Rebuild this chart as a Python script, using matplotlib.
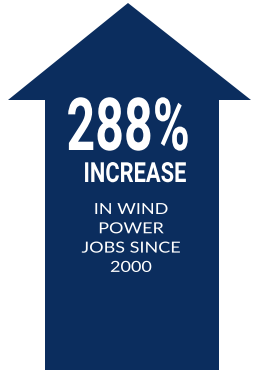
import matplotlib.pyplot as plt
from matplotlib.patches import Polygon
from matplotlib.patheffects import AbstractPathEffect
from matplotlib.transforms import Affine2D

# content
percent = 288
headline = "INCREASE"
sub_lines = ["IN WIND", "POWER", "JOBS SINCE", "2000"]

navy = "#0b2d5e"


class Stretch(AbstractPathEffect):
    """Scale glyphs about the baseline / horizontal centre of the text."""

    def __init__(self, sx, sy=1.0):
        super().__init__()
        self.sx = sx
        self.sy = sy

    def draw_path(self, renderer, gc, tpath, affine, rgbFace=None):
        ext = tpath.get_extents()
        cx = (ext.x0 + ext.x1) / 2
        pre = Affine2D().translate(-cx, 0).scale(self.sx, self.sy).translate(cx, 0)
        renderer.draw_path(gc, tpath, pre + affine, rgbFace)


fig = plt.figure(figsize=(2.56, 3.72), dpi=100)
ax = fig.add_axes([0, 0, 1, 1])
ax.set_xlim(0, 256)
ax.set_ylim(372, 0)
ax.axis("off")

# arrow outline: head + shaft
arrow = Polygon([(128, 3), (251, 100), (219, 100), (219, 370),
                 (45, 370), (45, 100), (8, 100)],
                closed=True, facecolor=navy, edgecolor="none")
ax.add_patch(arrow)

# big condensed figures
ax.text(128, 150, f"{percent}%", color="white", fontsize=28,
        fontweight="bold", family="Roboto", ha="center", va="baseline",
        path_effects=[Stretch(1.29, 1.88)])
ax.text(135, 182, headline, color="white", fontsize=15,
        fontweight="bold", family="Roboto", ha="center", va="baseline",
        path_effects=[Stretch(1.05, 1.33)])

for i, line in enumerate(sub_lines):
    ax.text(131, 214 + i * 19.3, line, color="white", fontsize=11,
            family="Lato", ha="center", va="baseline",
            path_effects=[Stretch(1.18)])

fig.savefig("out.png", dpi=100, facecolor="white")
plt.close()
